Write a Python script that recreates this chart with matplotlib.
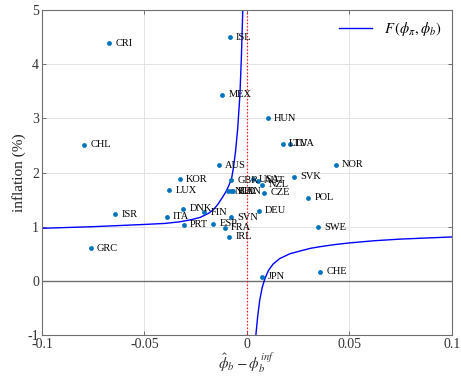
import matplotlib
matplotlib.use('Agg')
import matplotlib.pyplot as plt

# country points
countries = ['CRI', 'ISL', 'MEX', 'CHL', 'AUS', 'HUN', 'LTU', 'LVA', 'NOR',
             'KOR', 'GBR', 'USA', 'AUT', 'NZL', 'SVK', 'LUX', 'NLD', 'BEL',
             'CAN', 'CZE', 'POL', 'DNK', 'FIN', 'DEU', 'ISR', 'ITA', 'SVN',
             'PRT', 'ESP', 'FRA', 'IRL', 'SWE', 'GRC', 'CHE', 'JPN']
phi_gap = [-0.0673, -0.0084, -0.0119, -0.0794, -0.0138, 0.0101, 0.0174, 0.0210, 0.0433,
           -0.0328, -0.0075, 0.0028, 0.0052, 0.0075, 0.0231, -0.0379, -0.0090, -0.0077,
           -0.0066, 0.0086, 0.0299, -0.0311, -0.0208, 0.0059, -0.0644, -0.0392, -0.0078,
           -0.0307, -0.0164, -0.0107, -0.0086, 0.0345, -0.0762, 0.0358, 0.0073]
inflation = [4.39, 4.50, 3.44, 2.51, 2.13, 3.00, 2.53, 2.53, 2.14,
             1.88, 1.86, 1.88, 1.85, 1.77, 1.92, 1.67, 1.65, 1.65,
             1.65, 1.63, 1.53, 1.33, 1.27, 1.29, 1.23, 1.18, 1.17,
             1.04, 1.05, 0.98, 0.81, 0.99, 0.60, 0.17, 0.08]

# F(phi_pi, phi_b) curve, points read along the two branches
left_x = [-0.100, -0.075, -0.0507, -0.040, -0.0327, -0.0270, -0.0229, -0.0190,
          -0.0164, -0.0140, -0.0116, -0.0100, -0.0088, -0.0075, -0.0065, -0.0055,
          -0.0045, -0.0034, -0.0027, -0.0020]
left_y = [0.97, 1.00, 1.04, 1.06, 1.09, 1.13, 1.17, 1.24,
          1.31, 1.42, 1.56, 1.66, 1.76, 1.88, 2.10, 2.40,
          2.80, 3.43, 4.10, 5.00]
right_x = [0.0044, 0.0053, 0.0063, 0.0075, 0.0088, 0.0105, 0.0128, 0.0160,
           0.0210, 0.0259, 0.0310, 0.0356, 0.0430, 0.0500, 0.0620, 0.0746,
           0.0870, 0.1000]
right_y = [-1.00, -0.65, -0.35, -0.12, 0.04, 0.19, 0.31, 0.41,
           0.50, 0.55, 0.60, 0.63, 0.67, 0.70, 0.74, 0.77,
           0.79, 0.81]

plt.rcParams['font.family'] = ['Liberation Serif', 'DejaVu Serif']
plt.rcParams['mathtext.fontset'] = 'stix'

fig = plt.figure(figsize=(4.61, 3.77), dpi=100)
ax = fig.add_axes([0.091, 0.1114, 0.889, 0.862])

edge = '#6e6e6e'
ax.grid(True, color='#e3e3e3', linewidth=0.7)
ax.set_axisbelow(True)
ax.axhline(0, color=edge, linewidth=1.0, zorder=1)
ax.axvline(0, color='red', linestyle=':', linewidth=0.9, zorder=1)

line, = ax.plot(left_x, left_y, color='blue', linewidth=1.0, zorder=2)
ax.plot(right_x, right_y, color='blue', linewidth=1.0, zorder=2)

ax.scatter(phi_gap, inflation, s=12, color='#0072BD', zorder=3, linewidths=0)
for name, xv, yv in zip(countries, phi_gap, inflation):
    ax.annotate(name, (xv, yv), xytext=(4.5, 0), textcoords='offset points',
                ha='left', va='center', fontsize=7.5, zorder=4)

ax.set_xlim(-0.1, 0.1)
ax.set_ylim(-1, 5)
ax.set_xticks([-0.1, -0.05, 0, 0.05, 0.1])
ax.set_xticklabels(['-0.1', '-0.05', '0', '0.05', '0.1'])
ax.set_yticks([-1, 0, 1, 2, 3, 4, 5])
ax.set_yticklabels(['-1', '0', '1', '2', '3', '4', '5'])
ax.tick_params(direction='in', length=3, width=0.7, colors='#333333',
               labelsize=10, top=True, right=True, pad=2)
ax.tick_params(axis='both', color=edge)
for sp in ax.spines.values():
    sp.set_color(edge)
    sp.set_linewidth(0.8)

ax.set_xlabel(r'$\hat{\phi}_b - \phi_b^{inf}$', fontsize=11, color='#333333', labelpad=0)
ax.set_ylabel('inflation (%)', fontsize=11, color='#222222', labelpad=1)

ax.legend([line], [r'$F\,(\phi_\pi, \phi_b)$'], loc='upper right', frameon=False,
          fontsize=10.5, handlelength=2.3, borderaxespad=0.3)

fig.savefig('out.png', dpi=100)
